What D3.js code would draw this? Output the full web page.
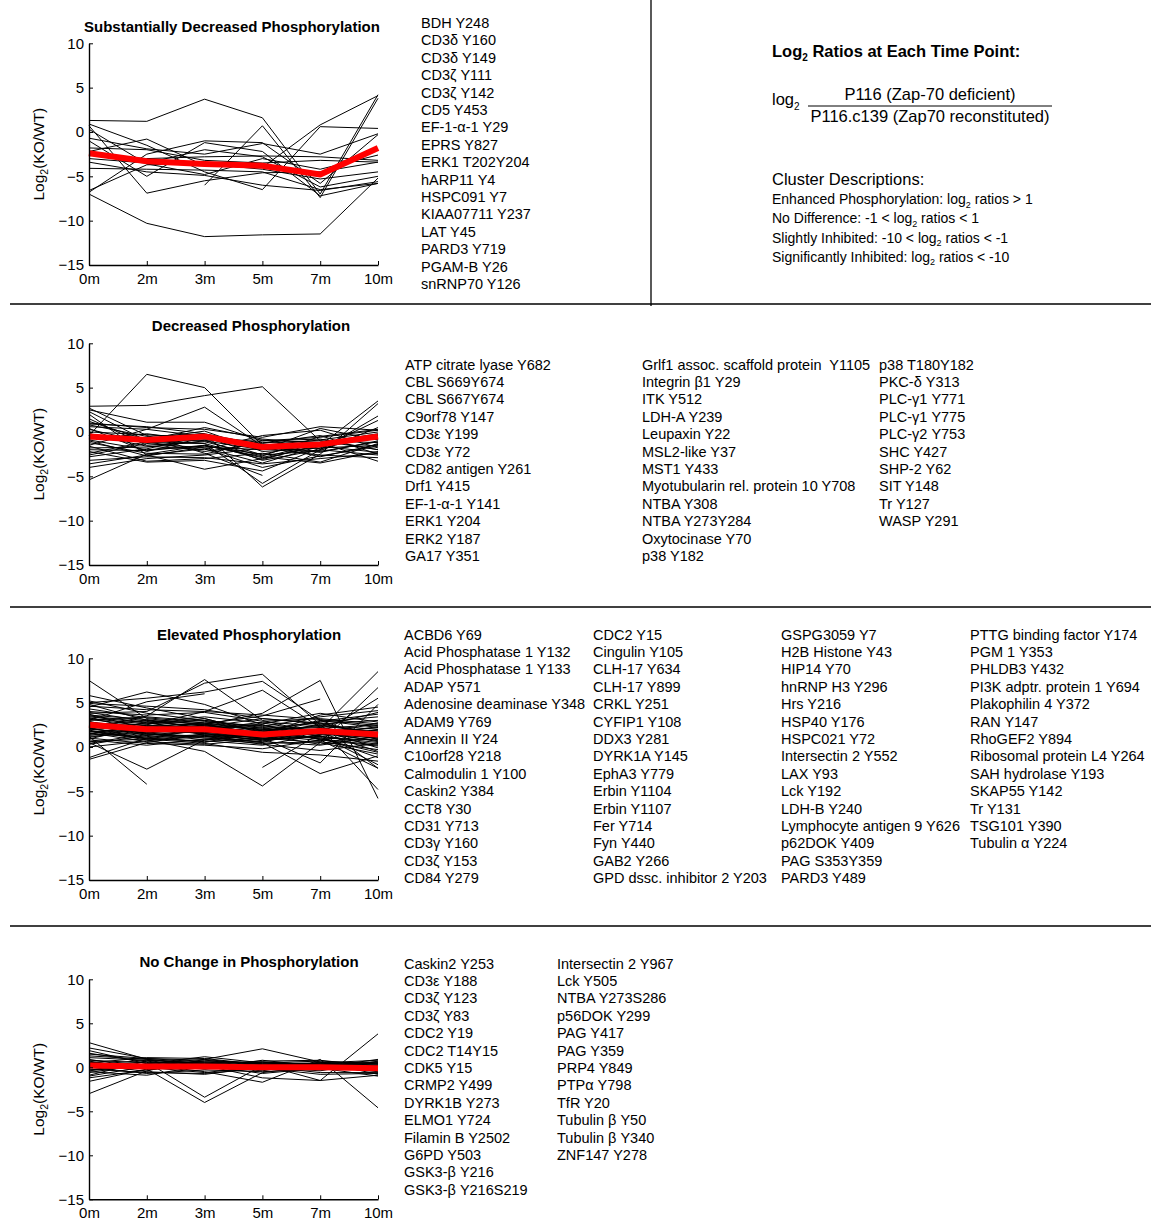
<!DOCTYPE html>
<html>
<head>
<meta charset="utf-8">
<script src="https://cdn.jsdelivr.net/npm/d3@7"></script>
<style>
  body { margin: 0; background: #fff; }
  svg { display: block; font-family: "Liberation Sans", Arial, Helvetica, sans-serif; }
  text { white-space: pre; }
</style>
</head>
<body>
<svg id="chart" width="1151" height="1220"></svg>
<script>
const width = 1151;
const height = 1220;

const times = ['0m', '2m', '3m', '5m', '7m', '10m'];
const yTicks = [10, 5, 0, -5, -10, -15];

const titles = [
    'Substantially Decreased Phosphorylation',
    'Decreased Phosphorylation',
    'Elevated Phosphorylation',
    'No Change in Phosphorylation'
];

// protein lists
const subDecNames = ['BDH Y248', 'CD3δ Y160', 'CD3δ Y149', 'CD3ζ Y111', 'CD3ζ Y142', 'CD5 Y453',
    'EF-1-α-1 Y29', 'EPRS Y827', 'ERK1 T202Y204', 'hARP11 Y4', 'HSPC091 Y7', 'KIAA07711 Y237',
    'LAT Y45', 'PARD3 Y719', 'PGAM-B Y26', 'snRNP70 Y126'];

const decNames = ['ATP citrate lyase Y682', 'CBL S669Y674', 'CBL S667Y674', 'C9orf78 Y147', 'CD3ε Y199',
    'CD3ε Y72', 'CD82 antigen Y261', 'Drf1 Y415', 'EF-1-α-1 Y141', 'ERK1 Y204', 'ERK2 Y187', 'GA17 Y351',
    'Grlf1 assoc. scaffold protein  Y1105', 'Integrin β1 Y29', 'ITK Y512', 'LDH-A Y239', 'Leupaxin Y22',
    'MSL2-like Y37', 'MST1 Y433', 'Myotubularin rel. protein 10 Y708', 'NTBA Y308', 'NTBA Y273Y284',
    'Oxytocinase Y70', 'p38 Y182',
    'p38 T180Y182', 'PKC-δ Y313', 'PLC-γ1 Y771', 'PLC-γ1 Y775', 'PLC-γ2 Y753', 'SHC Y427', 'SHP-2 Y62',
    'SIT Y148', 'Tr Y127', 'WASP Y291'];

const elevNames = ['ACBD6 Y69', 'Acid Phosphatase 1 Y132', 'Acid Phosphatase 1 Y133', 'ADAP Y571',
    'Adenosine deaminase Y348', 'ADAM9 Y769', 'Annexin II Y24', 'C10orf28 Y218', 'Calmodulin 1 Y100',
    'Caskin2 Y384', 'CCT8 Y30', 'CD31 Y713', 'CD3γ Y160', 'CD3ζ Y153', 'CD84 Y279',
    'CDC2 Y15', 'Cingulin Y105', 'CLH-17 Y634', 'CLH-17 Y899', 'CRKL Y251', 'CYFIP1 Y108', 'DDX3 Y281',
    'DYRK1A Y145', 'EphA3 Y779', 'Erbin Y1104', 'Erbin Y1107', 'Fer Y714', 'Fyn Y440', 'GAB2 Y266',
    'GPD dssc. inhibitor 2 Y203',
    'GSPG3059 Y7', 'H2B Histone Y43', 'HIP14 Y70', 'hnRNP H3 Y296', 'Hrs Y216', 'HSP40 Y176', 'HSPC021 Y72',
    'Intersectin 2 Y552', 'LAX Y93', 'Lck Y192', 'LDH-B Y240', 'Lymphocyte antigen 9 Y626', 'p62DOK Y409',
    'PAG S353Y359', 'PARD3 Y489',
    'PTTG binding factor Y174', 'PGM 1 Y353', 'PHLDB3 Y432', 'PI3K adptr. protein 1 Y694',
    'Plakophilin 4 Y372', 'RAN Y147', 'RhoGEF2 Y894', 'Ribosomal protein L4 Y264', 'SAH hydrolase Y193',
    'SKAP55 Y142', 'Tr Y131', 'TSG101 Y390', 'Tubulin α Y224'];

const noChangeNames = ['Caskin2 Y253', 'CD3ε Y188', 'CD3ζ Y123', 'CD3ζ Y83', 'CDC2 Y19', 'CDC2 T14Y15',
    'CDK5 Y15', 'CRMP2 Y499', 'DYRK1B Y273', 'ELMO1 Y724', 'Filamin B Y2502', 'G6PD Y503', 'GSK3-β Y216',
    'GSK3-β Y216S219',
    'Intersectin 2 Y967', 'Lck Y505', 'NTBA Y273S286', 'p56DOK Y299', 'PAG Y417', 'PAG Y359', 'PRP4 Y849',
    'PTPα Y798', 'TfR Y20', 'Tubulin β Y50', 'Tubulin β Y340', 'ZNF147 Y278'];

// log2 ratios per site, one value per time point (null = not measured)
const subDecValues = [
    [1.3, 1.2, 3.7, 1.6, -7.0, 4.2],
    [-7.0, -10.3, -11.8, -11.6, -11.5, -5.2],
    [0.7, -6.9, -5.5, -4.6, -4.5, -3.4],
    [-6.8, -2.5, -1.0, -1.2, -5.8, -0.3],
    [null, null, -6.0, 0.7, -7.4, 3.8],
    [0.9, -1.5, -4.5, -6.5, 0.6, 0.4],
    [-1.0, -5.0, -1.2, -2.2, -7.2, -5.8],
    [-2.2, -0.8, -3.8, -4.0, 0.8, 4.1],
    [-3.0, -3.5, -2.0, -2.8, -6.2, -5.0],
    [-4.1, -4.2, -4.3, -4.5, -6.5, -5.8],
    [-1.8, -2.0, -3.2, -3.5, -3.2, -3.4],
    [0.3, -3.6, -4.8, -3.0, -4.2, -2.6],
    [-2.6, -3.0, -2.8, -2.7, -2.8, -3.2],
    [-6.6, -3.7, -3.6, -4.2, -5.3, -4.5],
    [-0.7, -1.9, -2.5, -1.3, -2.5, -0.2],
    [-3.4, -4.5, -4.9, -6.0, -6.6, -5.6]
];
const subDecMean = [-2.4, -3.3, -3.6, -3.8, -4.8, -1.8];

const decValues = [
    [-0.4, 6.5, 5.0, -1.5, -1.2, -0.8],
    [2.9, 3.0, 4.1, 5.1, -1.0, -2.0],
    [2.5, 1.1, 1.1, -1.0, -0.6, 0.2],
    [-1.5, 0.3, 2.8, -1.6, -2.2, -1.1],
    [-5.4, -2.5, -1.5, -2.8, -3.5, -2.2],
    [2.0, -2.6, -4.2, -3.0, -1.5, 3.5],
    [0.8, -0.5, -0.2, -6.2, -2.5, 3.2],
    [-0.2, -1.2, -1.3, -5.8, -2.0, 1.8],
    [2.7, -0.4, -2.4, -4.9, null, null],
    [1.0, 0.5, 0.3, -0.6, 0.6, 0.2],
    [-2.2, -3.4, -3.2, -4.4, -1.8, 1.3],
    [-0.9, -2.0, -1.6, -2.5, -1.2, -3.3],
    [0.3, -1.2, -0.9, -3.2, -2.0, -2.6],
    [-3.2, -2.8, -2.9, -3.6, -3.0, -2.4],
    [-1.8, -1.7, -1.0, -2.0, 0.4, -0.9],
    [0.6, 0.3, -0.5, -1.2, -1.0, -1.2],
    [-2.6, -1.3, -1.8, -3.5, -1.6, -0.4],
    [-0.6, -0.8, 0.1, -2.2, -1.8, -1.5],
    [-4.0, -3.0, -2.6, -1.8, -2.6, -2.9],
    [1.5, -1.5, -1.1, -2.7, -0.5, 0.3],
    [-1.2, -2.4, -2.5, -1.0, -0.8, -2.0],
    [0.0, -0.3, -0.8, -1.4, -2.8, -1.4],
    [-2.0, -2.1, -1.5, -2.9, -1.2, -0.2],
    [-0.3, -1.6, -2.0, -0.4, 0.2, -1.8],
    [2.3, -1.0, -1.3, -3.1, -1.4, -0.6],
    [-1.0, -2.7, -1.7, -2.0, -1.6, -2.3],
    [-2.8, -1.9, -0.4, -1.7, -2.3, -1.0],
    [0.9, 0.6, -0.2, -1.5, -0.9, 0.0],
    [-1.6, -3.3, -3.0, -2.4, -3.4, -1.3],
    [-0.8, -0.2, -1.0, -0.9, -1.9, -0.3],
    [-2.4, -1.1, -2.2, -1.3, -0.4, -2.5],
    [0.4, -2.2, -0.6, -2.6, -2.1, 0.5],
    [-3.6, -2.6, -1.9, -4.0, -2.7, -1.6],
    [1.2, -0.9, 0.5, -0.8, -1.3, -0.7]
];
const decMean = [-0.5, -0.9, -0.5, -1.7, -1.4, -0.5];

const elevValues = [
    [7.5, 3.2, 2.5, 1.5, 2.0, 1.0],
    [4.5, 6.2, 4.8, 2.5, 1.2, 0.5],
    [2.0, 3.5, 7.6, 3.0, 1.5, 2.2],
    [3.8, 4.0, 7.2, 8.2, 2.5, -2.4],
    [5.0, 5.5, 6.2, 7.4, 3.0, 0.8],
    [3.0, 5.1, 6.0, null, null, null],
    [1.5, 2.5, 4.0, 6.4, 2.2, -4.8],
    [2.2, 1.8, 2.5, 3.8, 7.5, -5.8],
    [1.2, -4.2, null, null, null, null],
    [0.5, -2.5, 0.8, 1.5, 2.0, 8.5],
    [1.8, 0.8, -0.5, -4.4, 0.5, 6.7],
    [null, null, null, -2.3, 1.5, 5.5],
    [2.5, 1.5, 1.2, 0.5, -3.0, -1.0],
    [-1.4, 0.5, 1.5, 1.0, -1.8, 4.8],
    [-1.2, 1.0, 2.0, 2.5, 0.8, -2.4],
    [4.8, 3.0, 2.6, 3.5, 5.4, null],
    [2.0, 1.6, 1.9, 1.2, 1.5, 1.0],
    [3.1, 2.4, 2.2, 1.8, 2.4, 2.0],
    [1.5, 1.1, 1.4, 0.8, 1.2, 0.3],
    [4.0, 3.6, 3.9, 2.9, 3.2, 2.6],
    [2.6, 2.0, 1.5, 1.1, 2.0, 1.8],
    [0.8, 0.2, 0.9, 0.4, 0.6, -0.3],
    [3.5, 2.8, 2.4, 2.0, 2.8, 3.4],
    [1.2, 1.6, 1.0, 0.6, 0.2, 1.2],
    [5.2, 3.8, 3.0, 2.2, 1.9, 1.6],
    [2.3, 2.6, 3.2, 1.6, 1.0, 0.8],
    [1.9, 0.9, 0.7, 0.2, 1.4, 2.7],
    [3.3, 1.8, 1.6, 1.4, 3.6, 4.5],
    [0.3, 1.3, 1.8, 1.0, 0.5, -0.8],
    [2.8, 2.2, 2.8, 2.4, 1.8, 1.4],
    [4.6, 4.2, 4.0, 3.6, 3.1, 2.4],
    [1.0, 0.4, 0.2, -0.2, 0.8, 0.1],
    [2.4, 3.0, 2.1, 1.3, 2.6, 3.0],
    [3.9, 2.9, 1.3, 0.8, 1.6, -0.5],
    [1.7, 2.1, 2.6, 2.0, 1.2, 1.9],
    [0.6, 0.9, 0.4, -0.6, -0.9, -1.6],
    [2.9, 1.4, 1.1, 1.7, 3.0, 2.2],
    [4.3, 3.3, 2.7, 1.9, 2.2, 1.1],
    [1.4, 2.8, 3.4, 2.7, 1.7, 0.6],
    [2.1, 1.2, 0.5, 1.9, 2.3, 3.9],
    [3.6, 3.1, 2.0, 2.6, 3.8, 2.8],
    [0.0, 0.7, 1.2, 0.3, -0.4, 0.4],
    [2.7, 2.3, 1.7, 0.9, 1.9, -0.1],
    [1.1, 1.9, 2.3, 3.2, 2.6, 1.5],
    [3.2, 2.6, 3.0, 2.1, 1.4, 2.3],
    [5.8, 4.4, 3.2, 1.6, 0.9, 0.2],
    [1.6, 0.6, 0.3, 0.9, 1.1, -1.2],
    [2.5, 1.7, 2.4, 1.5, 2.9, 3.7],
    [0.4, 1.5, 0.8, 1.3, 0.3, 1.7],
    [3.4, 2.7, 1.9, 1.3, 1.8, 0.9],
    [2.2, 0.9, 1.3, 0.5, 2.1, 2.5],
    [4.9, 4.6, 4.2, 3.2, 2.7, 1.3],
    [1.3, 2.2, 1.6, 2.3, 3.4, 4.1],
    [3.0, 3.4, 2.9, 1.8, 0.9, -0.6],
    [1.8, 1.0, 0.6, 1.0, 1.6, 0.7],
    [2.6, 1.3, 2.0, 2.8, 2.4, 1.6],
    [0.9, 2.4, 2.6, 1.4, 0.7, 2.0],
    [3.7, 2.0, 1.5, 0.7, 1.3, -2.0]
];
const elevMean = [2.5, 2.0, 2.0, 1.4, 1.8, 1.4];

const noChangeValues = [
    [2.8, 0.9, 0.3, 0.2, 0.5, 0.6],
    [2.2, 1.0, 0.8, 0.4, 0.0, -0.4],
    [1.9, 0.4, 1.2, 0.5, 0.3, 0.2],
    [1.6, 0.6, -3.4, 0.2, 0.4, 0.0],
    [-1.6, -0.2, -4.0, -0.6, 0.2, 0.5],
    [-3.0, -0.4, 0.9, 2.1, 0.6, -0.8],
    [0.5, 1.1, 1.0, 0.3, -1.5, 3.8],
    [0.2, 0.3, -0.5, -1.7, 0.9, -4.6],
    [-0.5, -0.9, 0.2, -1.2, -1.5, -0.9],
    [0.8, 0.5, 0.6, 0.4, 0.5, 0.8],
    [-0.9, 0.7, 0.0, 0.6, 0.3, 0.3],
    [0.4, -0.5, -0.8, 0.0, -0.4, 0.7],
    [1.1, 0.8, 0.5, -0.3, 0.1, -0.5],
    [-0.3, 0.2, 0.7, 0.5, 0.7, 0.4],
    [0.0, -0.7, -0.3, -0.5, -0.2, -0.2],
    [1.3, 0.9, 0.4, 0.7, 0.8, 0.1],
    [-1.2, -0.3, 0.3, -0.2, 0.0, 0.9],
    [0.6, 0.0, -0.6, 0.1, -0.6, -0.6],
    [-0.6, 0.4, 0.9, 0.3, 0.4, 0.5],
    [0.9, -0.1, 0.1, -0.4, 0.6, -0.3],
    [0.1, 0.6, -0.2, 0.6, -0.3, 0.2],
    [-0.2, -0.6, -0.7, -0.1, -0.8, -0.7],
    [1.5, 1.0, 0.6, 0.2, 0.2, 0.6],
    [-1.0, 0.1, 0.4, 0.0, 0.5, 0.0],
    [0.3, 0.8, -0.1, 0.8, 0.1, 0.4],
    [0.7, -0.2, 0.2, -0.7, -0.1, -1.0],
    [-0.4, 0.3, 0.5, 0.2, 0.3, 0.1]
];
const noChangeMean = [0.2, 0.1, 0.1, 0.0, 0.0, -0.1];

const clusterDescriptions = [
    'Enhanced Phosphorylation: log₂ ratios > 1',
    'No Difference: -1 < log₂ ratios < 1',
    'Slightly Inhibited: -10 < log₂ ratios < -1',
    'Significantly Inhibited: log₂ ratios < -10'
];

// layout of each panel
const panels = [
    {title: titles[0], values: subDecValues, mean: subDecMean, names: subDecNames,
     top: 43.3, bottom: 265, titleX: 232, titleY: 31.5, listY: 28, cols: [421], perCol: 16},
    {title: titles[1], values: decValues, mean: decMean, names: decNames,
     top: 343.3, bottom: 565, titleX: 251, titleY: 331, listY: 369.5, cols: [405, 642, 879], perCol: 12},
    {title: titles[2], values: elevValues, mean: elevMean, names: elevNames,
     top: 658.3, bottom: 880, titleX: 249, titleY: 640, listY: 639.5, cols: [404, 593, 781, 970], perCol: 15},
    {title: titles[3], values: noChangeValues, mean: noChangeMean, names: noChangeNames,
     top: 979.3, bottom: 1199.3, titleX: 249, titleY: 967, listY: 968.5, cols: [404, 557], perCol: 14}
];

const left = 89;
const right = 378;
const lineGap = 17.4;

const svg = d3.select('#chart');

svg.append('rect').attr('width', width).attr('height', height).attr('fill', '#fff');

const x = d3.scalePoint().domain(times).range([left, right]);

panels.forEach(p => {
    const y = d3.scaleLinear().domain([-15, 10]).range([p.bottom, p.top]);
    const g = svg.append('g');

    const line = d3.line()
        .defined(d => d != null)
        .x((d, i) => x(times[i]))
        .y(d => y(d));

    g.selectAll('path.series').data(p.values)
        .enter()
        .append('path')
        .attr('class', 'series')
        .attr('d', line)
        .attr('fill', 'none')
        .attr('stroke', '#000')
        .attr('stroke-width', 1);

    g.append('path').datum(p.mean)
        .attr('d', line)
        .attr('fill', 'none')
        .attr('stroke', '#ff0000')
        .attr('stroke-width', 6)
        .attr('stroke-linejoin', 'round');

    const yAxis = g.append('g')
        .attr('transform', `translate(${left}, 0)`)
        .call(d3.axisLeft(y).tickValues(yTicks).tickSizeInner(-4).tickSizeOuter(0).tickPadding(5));

    const xAxis = g.append('g')
        .attr('transform', `translate(0, ${p.bottom})`)
        .call(d3.axisBottom(x).tickSizeInner(-4).tickSizeOuter(0).tickPadding(8));

    [xAxis, yAxis].forEach(a => {
        a.select('.domain').attr('stroke', '#000').attr('stroke-width', 1.4);
        a.selectAll('.tick line').attr('stroke', '#000').attr('stroke-width', 1);
        a.selectAll('.tick text')
            .attr('fill', '#000')
            .style('font-size', '15px')
            .style('font-family', '"Liberation Sans", Arial, Helvetica, sans-serif');
    });

    g.append('text')
        .attr('x', p.titleX)
        .attr('y', p.titleY)
        .attr('text-anchor', 'middle')
        .style('font-size', '15px')
        .style('font-weight', 'bold')
        .text(p.title);

    const yLabel = g.append('text')
        .attr('transform', `translate(44, ${(p.top + p.bottom) / 2}) rotate(-90)`)
        .attr('text-anchor', 'middle')
        .style('font-size', '15.5px');
    yLabel.append('tspan').text('Log');
    yLabel.append('tspan').attr('dy', 4).style('font-size', '10.5px').text('2');
    yLabel.append('tspan').attr('dy', -4).text('(KO/WT)');

    g.selectAll('text.name').data(p.names)
        .enter()
        .append('text')
        .attr('class', 'name')
        .attr('x', (d, i) => p.cols[Math.floor(i / p.perCol)])
        .attr('y', (d, i) => p.listY + (i % p.perCol) * lineGap)
        .style('font-size', '14.5px')
        .text(d => d);
});

// separators
svg.append('line').attr('x1', 651).attr('x2', 651).attr('y1', 0).attr('y2', 306)
    .attr('stroke', '#000').attr('stroke-width', 1.3);
[304, 607, 926].forEach(yy => {
    svg.append('line').attr('x1', 10).attr('x2', width).attr('y1', yy).attr('y2', yy)
        .attr('stroke', '#000').attr('stroke-width', 1.5);
});

// explanation box
const info = svg.append('g');

const head = info.append('text').attr('x', 772).attr('y', 57)
    .style('font-size', '16.5px').style('font-weight', 'bold');
head.append('tspan').text('Log');
head.append('tspan').attr('dy', 4).style('font-size', '10px').text('2');
head.append('tspan').attr('dy', -4).text(' Ratios at Each Time Point:');

const logText = info.append('text').attr('x', 772).attr('y', 105).style('font-size', '16.5px');
logText.append('tspan').text('log');
logText.append('tspan').attr('dy', 5).style('font-size', '10px').text('2');

info.append('text').attr('x', 930).attr('y', 100).attr('text-anchor', 'middle')
    .style('font-size', '16.5px').text('P116 (Zap-70 deficient)');
info.append('line').attr('x1', 808).attr('x2', 1052).attr('y1', 106).attr('y2', 106)
    .attr('stroke', '#000').attr('stroke-width', 1);
info.append('text').attr('x', 930).attr('y', 122).attr('text-anchor', 'middle')
    .style('font-size', '16.5px').text('P116.c139 (Zap70 reconstituted)');

info.append('text').attr('x', 772).attr('y', 184.5).style('font-size', '16.5px').text('Cluster Descriptions:');

clusterDescriptions.forEach((s, i) => {
    const parts = s.split('₂');
    const t = info.append('text').attr('x', 772).attr('y', 204 + i * 19.3).style('font-size', '14px');
    t.append('tspan').text(parts[0]);
    t.append('tspan').attr('dy', 3.5).style('font-size', '9px').text('2');
    t.append('tspan').attr('dy', -3.5).text(parts[1]);
});
</script>
</body>
</html>
